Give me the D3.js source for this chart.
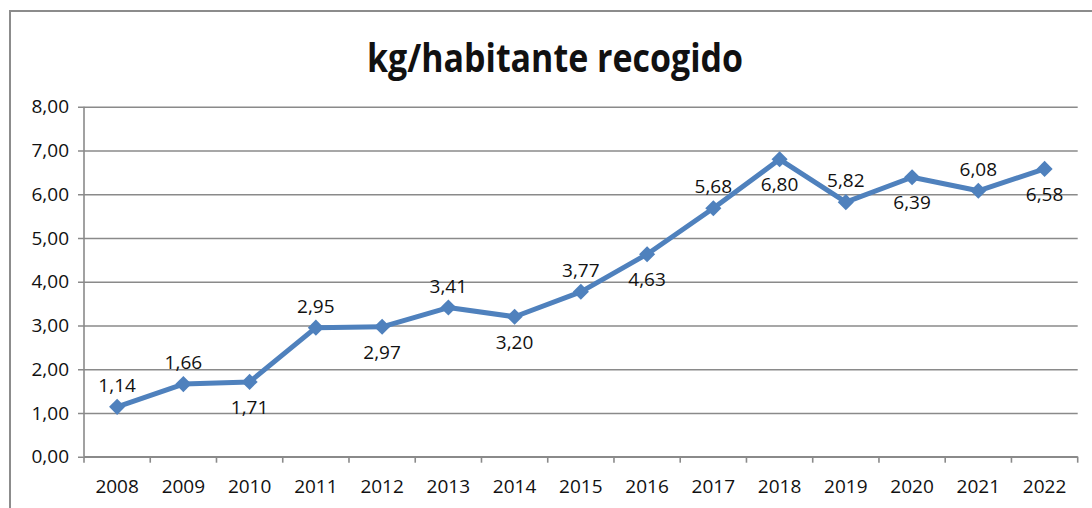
<!DOCTYPE html>
<head>
<meta charset="utf-8">
<script src="https://d3js.org/d3.v7.min.js"></script>
<style>
  body { margin: 0; background: #fff; }
  text { font-family: "Open Sans", sans-serif; fill: #111; }
</style>
</head>
<body>
<div id="my_dataviz"></div>
<script>

// data
var years = ["2008","2009","2010","2011","2012","2013","2014","2015","2016","2017","2018","2019","2020","2021","2022"];
var values = [1.14, 1.66, 1.71, 2.95, 2.97, 3.41, 3.20, 3.77, 4.63, 5.68, 6.80, 5.82, 6.39, 6.08, 6.58];
var labelSide = ["up","up","down","up","down","up","down","up","down","up","down","up","down","up","down"];
var yTicks = [0, 1, 2, 3, 4, 5, 6, 7, 8];
var title = "kg/habitante recogido";

var W = 1092, H = 508;
var margin = {top: 106.8, right: 14.3, bottom: 51.3, left: 84};
var width = W - margin.left - margin.right,
    height = H - margin.top - margin.bottom;

var svg = d3.select("#my_dataviz")
  .append("svg")
    .attr("width", W)
    .attr("height", H);

// outer frame (right/bottom edges run off the picture)
svg.append("rect")
  .attr("x", 10).attr("y", 11)
  .attr("width", 1200).attr("height", 600)
  .attr("fill", "none")
  .attr("stroke", "#8c8c8c")
  .attr("stroke-width", 2);

// title
svg.append("text")
  .attr("x", 555)
  .attr("y", 72)
  .attr("text-anchor", "middle")
  .attr("font-size", 40)
  .attr("font-weight", "bold")
  .attr("textLength", 376)
  .attr("lengthAdjust", "spacingAndGlyphs")
  .text(title);

var g = svg.append("g")
  .attr("transform", "translate(" + margin.left + "," + margin.top + ")");

var x = d3.scaleBand()
  .domain(years)
  .range([0, width]);

var y = d3.scaleLinear()
  .domain([0, 8])
  .range([height, 0]);

var fmt = function(v) { return d3.format(".2f")(v).replace(".", ","); };

// Y axis with grid lines
var yAxis = g.append("g")
  .call(d3.axisLeft(y).tickValues(yTicks).tickSize(-width).tickPadding(15).tickFormat(fmt));
yAxis.select(".domain").remove();
yAxis.selectAll(".tick line")
  .attr("x1", -6)
  .attr("stroke", "#8a8a8a")
  .attr("stroke-width", 1.6);
yAxis.selectAll(".tick text")
  .attr("font-size", 19)
  .attr("font-family", "Open Sans")
  .attr("fill", "#111");

// vertical axis line
g.append("line")
  .attr("x1", 0).attr("x2", 0)
  .attr("y1", 0).attr("y2", height)
  .attr("stroke", "#8a8a8a")
  .attr("stroke-width", 1.6);

// X axis: ticks at the category edges
var xAxis = g.append("g")
  .attr("transform", "translate(0," + height + ")");
xAxis.append("line")
  .attr("x1", 0).attr("x2", width)
  .attr("stroke", "#8a8a8a")
  .attr("stroke-width", 1.6);
xAxis.selectAll("edge")
  .data(years.concat(["end"]))
  .enter()
  .append("line")
    .attr("x1", function(d, i) { return i * x.step(); })
    .attr("x2", function(d, i) { return i * x.step(); })
    .attr("y1", 0).attr("y2", 6)
    .attr("stroke", "#8a8a8a")
    .attr("stroke-width", 1.6);
xAxis.selectAll("lab")
  .data(years)
  .enter()
  .append("text")
    .attr("x", function(d) { return x(d) + x.bandwidth() / 2; })
    .attr("y", 36)
    .attr("text-anchor", "middle")
    .attr("font-size", 19)
    .text(function(d) { return d; });

var cx = function(i) { return x(years[i]) + x.bandwidth() / 2; };

// line
g.append("path")
  .datum(values)
  .attr("fill", "none")
  .attr("stroke", "#4f81bd")
  .attr("stroke-width", 5)
  .attr("stroke-linejoin", "round")
  .attr("d", d3.line()
    .x(function(d, i) { return cx(i); })
    .y(function(d) { return y(d); })
  );

// diamond markers
g.selectAll("marks")
  .data(values)
  .enter()
  .append("path")
    .attr("d", d3.symbol().type(d3.symbolSquare).size(130))
    .attr("transform", function(d, i) { return "translate(" + cx(i) + "," + y(d) + ") rotate(45)"; })
    .attr("fill", "#4f81bd");

// data labels
g.selectAll("vals")
  .data(values)
  .enter()
  .append("text")
    .attr("x", function(d, i) { return cx(i); })
    .attr("y", function(d, i) { return y(d) + (labelSide[i] == "up" ? -15 : 32); })
    .attr("text-anchor", "middle")
    .attr("font-size", 19)
    .text(function(d) { return fmt(d); });

</script>
</body>
